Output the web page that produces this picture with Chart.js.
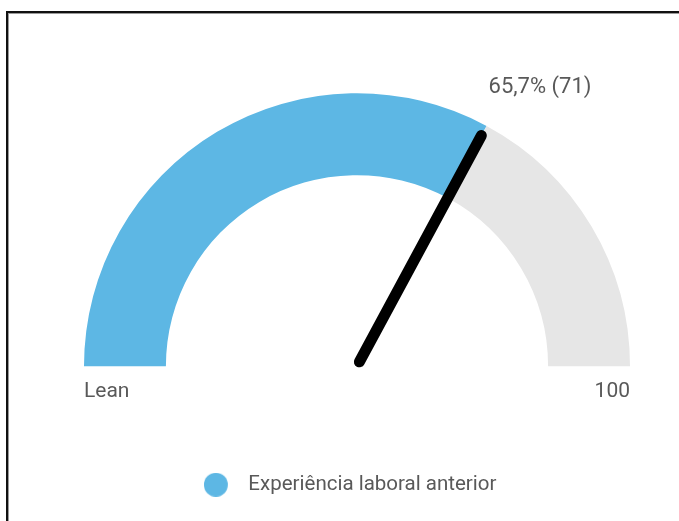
<!DOCTYPE html>
<html lang="pt">
<head>
    <meta charset="UTF-8">
    <title>Experiência laboral anterior</title>
    <script src="https://cdn.jsdelivr.net/npm/chart.js@4.4.1/dist/chart.umd.min.js"></script>
    <style>
        html, body {
            margin: 0;
            padding: 0;
            background: #fff;
            overflow: hidden;
        }
        .frame {
            position: absolute;
            left: 6px;
            top: 11px;
            width: 700px;
            height: 540px;
            border-left: 2px solid #111;
            border-top: 2px solid #111;
            box-shadow: inset 1px 1px 0 #9a9a9a;
        }
        .chart-container {
            position: absolute;
            left: 0;
            top: 0;
            width: 679px;
            height: 521px;
        }
    </style>
</head>
<body>
    <div class="frame"></div>
    <div class="chart-container">
        <canvas id="gauge"></canvas>
    </div>
    <script>
        // gauge data
        const categories = ['Experiência laboral anterior', 'Restante'];
        const counts = [71, 37];
        const endLabels = ['Lean', '100'];

        const blue = '#5db7e4';
        const grey = '#e6e6e6';
        const textColor = '#595959';
        const fontFamily = 'Roboto, "Noto Sans", sans-serif';

        Chart.defaults.font.family = fontFamily;

        // legend marker: circle with some room on the left side
        const marker = document.createElement('canvas');
        marker.width = 48;
        marker.height = 24;
        const mctx = marker.getContext('2d');
        mctx.fillStyle = blue;
        mctx.beginPath();
        mctx.arc(12, 12, 12, 0, Math.PI * 2);
        mctx.fill();

        // needle + end labels + value label
        const gaugeExtras = {
            id: 'gaugeExtras',
            afterDatasetsDraw(chart) {
                const arc = chart.getDatasetMeta(0).data[0];
                if (!arc) return;
                const {x, y, outerRadius, endAngle} = arc.getProps(['x', 'y', 'outerRadius', 'endAngle'], true);
                const ctx = chart.ctx;
                const cos = Math.cos(endAngle), sin = Math.sin(endAngle);

                ctx.save();
                ctx.strokeStyle = '#000';
                ctx.lineWidth = 11;
                ctx.lineCap = 'round';
                ctx.beginPath();
                ctx.moveTo(x + 5 * cos, y + 5 * sin);
                ctx.lineTo(x + (outerRadius - 11) * cos, y + (outerRadius - 11) * sin);
                ctx.stroke();

                ctx.fillStyle = textColor;
                ctx.font = '21px ' + fontFamily;
                ctx.textBaseline = 'alphabetic';
                ctx.textAlign = 'left';
                ctx.fillText(endLabels[0], x - outerRadius, y + 31);
                ctx.textAlign = 'right';
                ctx.fillText(endLabels[1], x + outerRadius, y + 31);

                const total = counts.reduce((a, b) => a + b, 0);
                const pct = (counts[0] / total * 100).toFixed(1).replace('.', ',');
                const tipX = x + outerRadius * cos;
                const tipY = y + outerRadius * sin;
                ctx.font = '22px ' + fontFamily;
                ctx.textAlign = 'left';
                ctx.fillText(pct + '% (' + counts[0] + ')', tipX + 2, tipY - 33);
                ctx.restore();
            }
        };

        new Chart(document.getElementById('gauge'), {
            type: 'doughnut',
            data: {
                labels: categories,
                datasets: [{
                    data: counts,
                    backgroundColor: [blue, grey],
                    borderWidth: 0,
                    hoverOffset: 0
                }]
            },
            options: {
                responsive: true,
                maintainAspectRatio: false,
                animation: false,
                rotation: -90,
                circumference: 180,
                cutout: '70%',
                layout: {
                    padding: { left: 84, right: 49, top: 2, bottom: 16 }
                },
                plugins: {
                    tooltip: { enabled: false },
                    legend: {
                        position: 'bottom',
                        labels: {
                            usePointStyle: true,
                            pointStyle: marker,
                            boxHeight: 20,
                            padding: 17,
                            color: textColor,
                            font: { size: 20.5 },
                            filter: item => item.index === 0
                        }
                    }
                }
            },
            plugins: [gaugeExtras]
        });
    </script>
</body>
</html>
